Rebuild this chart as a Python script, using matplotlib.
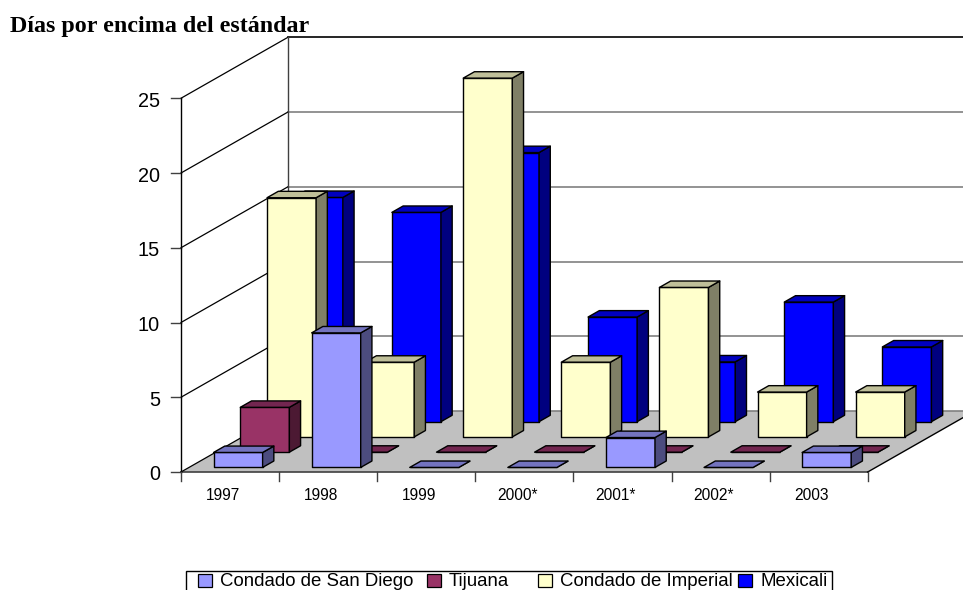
import matplotlib
matplotlib.use('Agg')
import matplotlib.pyplot as plt
from matplotlib.patches import Polygon, Rectangle

years = ['1997', '1998', '1999', '2000*', '2001*', '2002*', '2003']
san_diego = [1, 9, 0, 0, 2, 0, 1]
tijuana = [3, 0, 0, 0, 0, 0, 0]
imperial = [16, 5, 24, 5, 10, 3, 3]
mexicali = [15, 14, 18, 7, 4, 8, 5]
y_ticks = [0, 5, 10, 15, 20, 25]

series_names = ['Condado de San Diego', 'Tijuana', 'Condado de Imperial', 'Mexicali']
series_values = [san_diego, tijuana, imperial, mexicali]
# front, side, top
series_colors = [('#9999FF', '#4C4C7F', '#7373BF'),
                 ('#993366', '#4C1933', '#732650'),
                 ('#FFFFCC', '#7F7F66', '#BFBF99'),
                 ('#0000FF', '#00007F', '#0000BF')]

# oblique projection, in pixels of the picture
X0, Y0 = 181, 472
CAT_W = 98.1
UNIT = 14.95
DX, DY = 107, 61
Y_TOP = 25


def proj(cat, val, depth):
    return (X0 + CAT_W * cat + DX * depth, Y0 - UNIT * val - DY * depth)


fig = plt.figure(figsize=(9.63, 5.90), dpi=100)
ax = fig.add_axes([0, 0, 1, 1])
ax.set_xlim(0, 963)
ax.set_ylim(590, 0)
ax.axis('off')
n = len(years)
sans = 'Liberation Sans'

# floor
ax.add_patch(Polygon([proj(0, 0, 0), proj(n, 0, 0), proj(n, 0, 1), proj(0, 0, 1)],
                     fc='#C0C0C0', ec='none', zorder=1))
ax.plot(*zip(proj(0, 0, 0), proj(n, 0, 0)), color='#404040', lw=1.2, zorder=2)
ax.plot(*zip(proj(n, 0, 0), proj(n, 0, 1)), color='black', lw=1, zorder=2)

# walls and gridlines
for v in y_ticks:
    back = '#808080' if v < Y_TOP else 'black'
    ax.plot(*zip(proj(0, v, 1), proj(n, v, 1)), color=back, lw=1.2, zorder=1)
    ax.plot(*zip(proj(0, v, 0), proj(0, v, 1)), color='black', lw=0.9, zorder=2)
    x, y = proj(0, v, 0)
    ax.plot([x - 10, x], [y, y], color='#404040', lw=1, zorder=2)
    ax.text(x - 21, y + 3, str(v), ha='right', va='center', fontsize=14.3, family=sans)
ax.plot(*zip(proj(0, 0, 0), proj(0, Y_TOP, 0)), color='black', lw=1, zorder=2)
ax.plot(*zip(proj(0, 0, 1), proj(0, Y_TOP, 1)), color='#404040', lw=1, zorder=2)

# category ticks and labels
for i in range(n + 1):
    x, y = proj(i, 0, 0)
    ax.plot([x, x], [y, y + 9], color='#404040', lw=1, zorder=2)
for i, name in enumerate(years):
    x, y = proj(i + 0.5, 0, 0)
    ax.text(x - 7, y + 24, name, ha='center', va='center', fontsize=11.2, family=sans)

# bars, back to front
BAR_W = 0.5
BAR_D = 0.105
z = 3
for s in range(len(series_values) - 1, -1, -1):
    front, side, top = series_colors[s]
    d0 = s * 0.25 + 0.075
    d1 = d0 + BAR_D
    for i, v in enumerate(series_values[s]):
        c0 = i + 0.25
        c1 = c0 + BAR_W
        faces = [([proj(c0, 0, d0), proj(c1, 0, d0), proj(c1, v, d0), proj(c0, v, d0)], front),
                 ([proj(c1, 0, d0), proj(c1, 0, d1), proj(c1, v, d1), proj(c1, v, d0)], side),
                 ([proj(c0, v, d0), proj(c1, v, d0), proj(c1, v, d1), proj(c0, v, d1)], top)]
        for pts, col in faces:
            ax.add_patch(Polygon(pts, fc=col, ec='black', lw=1, joinstyle='round', zorder=z))
    z += 1

ax.text(10, 32, 'Días por encima del estándar', fontsize=17.3, fontweight='bold',
        family='Liberation Serif', ha='left', va='baseline')

# legend box, runs off the bottom of the picture
ax.add_patch(Rectangle((186, 571), 646, 30, fc='white', ec='black', lw=1, zorder=6, clip_on=True))
swatch_x = [198, 427, 538, 738]
for sx, name, cols in zip(swatch_x, series_names, series_colors):
    ax.add_patch(Rectangle((sx, 574), 14, 13, fc=cols[0], ec='black', lw=0.9, zorder=7))
    ax.text(sx + 22, 582, name, fontsize=13.4, family=sans, ha='left', va='center', zorder=7)

fig.savefig('out.png', dpi=100)
